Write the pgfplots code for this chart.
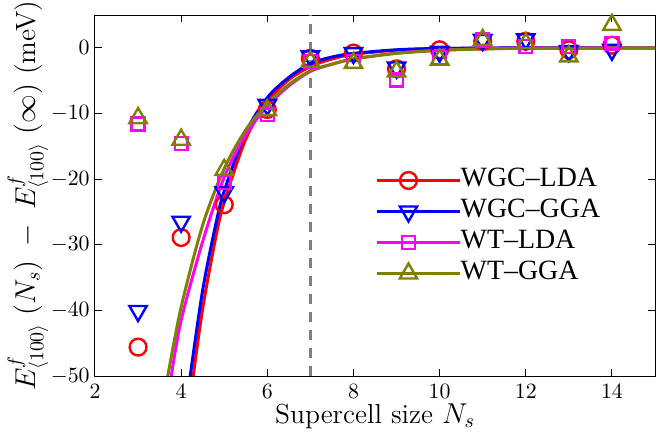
\documentclass[border=0pt]{standalone}
\usepackage{pgfplots}
\pgfplotsset{compat=1.18}
\usepackage{fontspec}
\newfontfamily\tnr{Liberation Serif}
\definecolor{olivec}{rgb}{0.5,0.5,0}
\definecolor{magc}{rgb}{1,0,1}
\definecolor{grayd}{rgb}{0.5,0.5,0.5}
\pgfplotsset{
  mylegend/.style={legend image code/.code={
    \draw[mark=none, line width=1.5bp] (0bp,0bp) -- (32bp,0bp);
    \draw[only marks] plot coordinates {(16bp,0bp)};
    \path (0bp,0bp) -- (41.5bp,0bp);
  }},
  pts/.style={only marks, line width=1.2bp, mylegend},
  fit/.style={no marks, line width=1.5bp, smooth, forget plot},
}
\begin{document}
\begin{tikzpicture}
\begin{axis}[
  scale only axis,
  width=280bp, height=180.5bp,
  xmin=2, xmax=15, ymin=-50, ymax=5,
  xtick={2,4,...,14}, ytick={-50,-40,...,0},
  tick align=inside,
  major tick length=3.5bp,
  minor tick num=0,
  axis line style={line width=0.5bp},
  tick style={line width=0.5bp, black},
  xticklabel style={font=\fontsize{10.8}{12}\selectfont, anchor=base, inner sep=0pt, yshift=-11bp},
  yticklabel style={font=\fontsize{10.8}{12}\selectfont, anchor=east, inner sep=0pt, xshift=-2.5bp},
  xlabel={Supercell size $N_s$},
  xlabel style={font=\fontsize{13.8}{15}\selectfont, at={(axis description cs:0.5,0)}, anchor=base, yshift=-23.5bp},
  ylabel={$E^{f}_{\langle 100\rangle}\;(N_s)\;-\;E^{f}_{\langle 100\rangle}\;(\infty)$\ (meV)},
  ylabel style={font=\fontsize{14}{16}\selectfont, at={(axis description cs:-0.1196,0.5)}, anchor=center},
  legend style={draw=none, fill=none, at={(rel axis cs:0.5,0.579)}, anchor=north west,
    inner sep=0pt, outer sep=0pt, row sep=2bp,
    font=\tnr\fontsize{14}{16}\selectfont,
    nodes={inner sep=0pt, text height=10bp, text depth=3.5bp}},
  legend cell align=left,
]
\addplot[grayd, dash pattern=on 5bp off 4bp, line width=1.5bp, forget plot] coordinates {(7,-50) (7,5)};
% fitted curves
\addplot[fit, red] coordinates {(4.28,-50) (4.5,-39.7) (4.8,-29) (5,-23.5) (5.5,-13.9) (6,-8.2) (6.5,-4.85) (7,-2.86) (7.5,-1.7) (8,-1.0) (9,-0.35) (10,-0.12) (12,-0.01) (15,0)};
\addplot[fit, blue] coordinates {(4.21,-50) (4.5,-36.9) (4.8,-27) (5,-21.8) (5.5,-12.9) (6,-7.6) (6.5,-4.5) (7,-2.4) (7.5,-1.4) (8,-0.85) (9,-0.3) (10,-0.1) (12,-0.01) (15,0)};
\addplot[fit, magc] coordinates {(3.77,-50) (4,-41.5) (4.5,-29.5) (5,-19.7) (5.5,-13.2) (6,-8.9) (6.5,-5.8) (7,-3.6) (7.5,-2.5) (8,-1.7) (9,-0.8) (10,-0.36) (11,-0.16) (12,-0.07) (15,0)};
\addplot[fit, olivec] coordinates {(3.69,-50) (4,-39.5) (4.5,-27) (5,-18.4) (5.5,-12.5) (6,-8.5) (6.5,-5.6) (7,-3.5) (7.5,-2.5) (8,-1.7) (9,-0.85) (10,-0.39) (11,-0.18) (12,-0.08) (15,0)};
% data points
\addplot[pts, red, mark=o, mark size=4.2bp] coordinates {(3,-45.6) (4,-28.9) (5,-23.9) (6,-9.4) (7,-1.6) (8,-0.8) (9,-3.2) (10,-0.3) (11,1.0) (12,1.0) (13,-0.3) (14,0.4)};
\addlegendentry{WGC–LDA}
\addplot[pts, blue, mark=triangle, mark options={rotate=180}, mark size=5bp] coordinates {(3,-40.1) (4,-26.5) (5,-22.0) (6,-8.7) (7,-1.3) (8,-0.8) (9,-3.0) (10,-0.6) (11,1.2) (12,1.3) (13,-0.5) (14,-0.3)};
\addlegendentry{WGC–GGA}
\addplot[pts, magc, mark=square, mark size=3.2bp] coordinates {(3,-11.6) (4,-14.6) (5,-20.5) (6,-10.2) (7,-2.1) (8,-2.1) (9,-4.9) (10,-1.5) (11,1.2) (12,0.2) (13,0.2) (14,0.7)};
\addlegendentry{WT–LDA}
\addplot[pts, olivec, mark=triangle, mark size=5bp] coordinates {(3,-10.7) (4,-14.0) (5,-18.6) (6,-9.5) (7,-2.1) (8,-2.3) (9,-3.6) (10,-1.8) (11,1.2) (12,0.7) (13,-1.3) (14,3.5)};
\addlegendentry{WT–GGA}
\end{axis}
\pgfresetboundingbox
\path (current axis.south west) ++(-47.5bp,-31bp) coordinate (bl);
\path (current axis.south west) ++(284.5bp,188bp) coordinate (tr);
\path (bl) rectangle (tr);
\end{tikzpicture}
\end{document}
